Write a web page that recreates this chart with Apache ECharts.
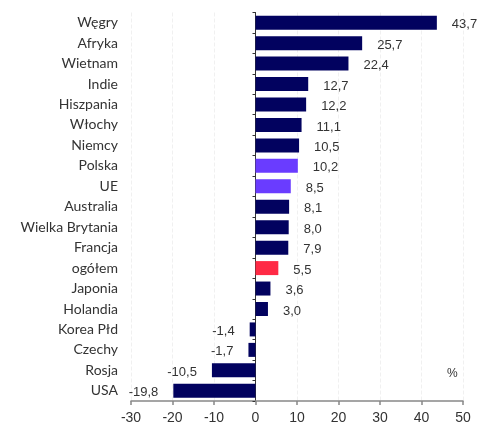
<html>
    <head>
        <meta charset="utf-8">
        <script src="https://cdn.jsdelivr.net/npm/echarts@6/dist/echarts.min.js"></script>
    </head>
    <body>
        <style>
            html, body, #main {
                width: 100%;
                height: 100%;
                margin: 0;
            }
        </style>
        <div id="main"></div>
        <script>

            var categories = ['Węgry', 'Afryka', 'Wietnam', 'Indie', 'Hiszpania', 'Włochy', 'Niemcy',
                'Polska', 'UE', 'Australia', 'Wielka Brytania', 'Francja', 'ogółem', 'Japonia',
                'Holandia', 'Korea Płd', 'Czechy', 'Rosja', 'USA'];
            var values = [43.7, 25.7, 22.4, 12.7, 12.2, 11.1, 10.5, 10.2, 8.5, 8.1, 8.0, 7.9, 5.5,
                3.6, 3.0, -1.4, -1.7, -10.5, -19.8];
            var xTicks = [-30, -20, -10, 0, 10, 20, 30, 40, 50];

            var navy = '#02025f';
            var colorOf = {
                'Polska': '#6a3cff',
                'UE': '#6a3cff',
                'ogółem': '#ff2a45'
            };

            var chart = echarts.init(document.getElementById('main'));

            chart.setOption({
                animation: false,
                grid: {
                    left: 131,
                    right: 31,
                    top: 12.5,
                    bottom: 22,
                    containLabel: false
                },
                xAxis: {
                    type: 'value',
                    min: xTicks[0],
                    max: xTicks[xTicks.length - 1],
                    interval: 10,
                    axisLine: {
                        show: true,
                        lineStyle: { color: '#888', width: 1.5 }
                    },
                    axisTick: {
                        show: true,
                        length: 4,
                        lineStyle: { color: '#888', width: 1.5 }
                    },
                    axisLabel: {
                        color: '#333',
                        fontFamily: 'Liberation Sans',
                        fontSize: 14,
                        margin: 10
                    },
                    splitLine: {
                        show: true,
                        lineStyle: { color: '#f0f0f0', type: 'dashed' }
                    }
                },
                yAxis: [{
                    // category labels on the left edge
                    type: 'category',
                    data: categories,
                    inverse: true,
                    axisLine: { show: false, onZero: false },
                    axisTick: { show: false },
                    axisLabel: {
                        color: '#333',
                        fontFamily: 'Lato',
                        fontSize: 14,
                        margin: 13
                    }
                }, {
                    // zero line with ticks
                    type: 'category',
                    data: categories,
                    inverse: true,
                    position: 'left',
                    axisLine: {
                        show: true,
                        onZero: true,
                        lineStyle: { color: '#333', width: 1 }
                    },
                    axisTick: {
                        show: true,
                        length: 3,
                        lineStyle: { color: '#333' }
                    },
                    axisLabel: { show: false }
                }],
                graphic: [{
                    type: 'text',
                    left: 447,
                    top: 368,
                    style: {
                        text: '%',
                        fill: '#333',
                        font: '12px Liberation Sans'
                    }
                }],
                series: [{
                    type: 'bar',
                    barWidth: 14,
                    data: values.map(function (v, i) {
                        return {
                            value: v,
                            itemStyle: { color: colorOf[categories[i]] || navy },
                            label: { position: v < 0 ? 'left' : 'right' }
                        };
                    }),
                    label: {
                        show: true,
                        distance: 15,
                        color: '#333',
                        fontFamily: 'Liberation Sans',
                        fontSize: 13,
                        offset: [0, 2],
                        formatter: function (p) {
                            return p.value.toFixed(1).replace('.', ',');
                        }
                    }
                }]
            });

        </script>
    </body>
</html>
